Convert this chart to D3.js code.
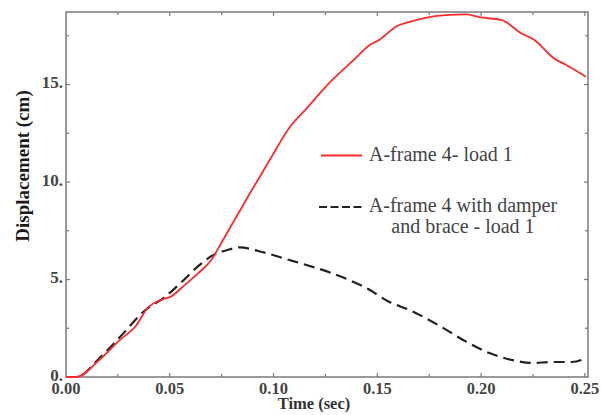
<!DOCTYPE html>
<html><head><meta charset="utf-8">
<script src="https://cdn.jsdelivr.net/npm/d3@7"></script>
<style>body{margin:0;background:#fff}svg{display:block}</style>
</head><body>
<svg id="c" width="601" height="415"></svg>
<script>
const xTicks = [0, 0.05, 0.10, 0.15, 0.20, 0.25];
const xTickLabels = ["0.00", "0.05", "0.10", "0.15", "0.20", "0.25"];
const yTicks = [0, 5, 10, 15];
const yTickLabels = ["0.", "5.", "10.", "15."];

const redT = [0, 0.005, 0.016, 0.026, 0.034, 0.039, 0.047, 0.050, 0.057, 0.064, 0.070, 0.0755, 0.0885, 0.098, 0.1077, 0.1157, 0.127, 0.139, 0.146, 0.151, 0.1596, 0.165, 0.175, 0.183, 0.193, 0.199, 0.210, 0.2197, 0.2255, 0.235, 0.241, 0.2505];
const redV = [0, 0, 0.87, 1.9, 2.67, 3.5, 4.0, 4.1, 4.7, 5.35, 6.0, 7.0, 9.4, 11.1, 12.8, 13.75, 15.1, 16.3, 17.0, 17.3, 18.0, 18.2, 18.46, 18.56, 18.6, 18.46, 18.3, 17.6, 17.3, 16.35, 16.0, 15.4];

const blackT = [0, 0.005, 0.016, 0.026, 0.039, 0.047, 0.055, 0.0644, 0.070, 0.0774, 0.0837, 0.093, 0.1077, 0.1125, 0.128, 0.1365, 0.1447, 0.1558, 0.1654, 0.181, 0.193, 0.204, 0.215, 0.2245, 0.234, 0.2438, 0.2505];
const blackV = [0, 0, 0.95, 2.05, 3.5, 4.05, 4.8, 5.75, 6.2, 6.5, 6.65, 6.45, 6.0, 5.85, 5.33, 4.97, 4.56, 3.85, 3.44, 2.56, 1.8, 1.23, 0.87, 0.72, 0.77, 0.77, 0.97];

const legendLabels = ["A-frame 4- load 1", "A-frame 4 with damper", "and brace - load 1"];

const svg = d3.select("#c");
const L = 66, R = 588, T = 12, B = 377;
const x = d3.scaleLinear().domain([0, 0.2515]).range([L, R]);
const y = d3.scaleLinear().domain([0, 18.72]).range([B, T]);
const axisCol = "#7a7a7a";
const serif = "'Liberation Serif','Times New Roman',serif";

// frame
svg.append("rect").attr("x", L).attr("y", T).attr("width", R - L).attr("height", B - T)
  .attr("fill", "none").attr("stroke", axisCol).attr("stroke-width", 1.5);

const xMinor = [0.025, 0.075, 0.125, 0.175, 0.225];
const yMinor = [2.5, 7.5, 12.5, 17.5];
function tickLines(vals, len) {
  vals.forEach(v => {
    svg.append("line").attr("x1", x(v)).attr("x2", x(v)).attr("y1", B).attr("y2", B - len).attr("stroke", axisCol).attr("stroke-width", 1.2);
    svg.append("line").attr("x1", x(v)).attr("x2", x(v)).attr("y1", T).attr("y2", T + len).attr("stroke", axisCol).attr("stroke-width", 1.2);
  });
}
function yTickLines(vals, len) {
  vals.forEach(v => {
    svg.append("line").attr("x1", L).attr("x2", L + len).attr("y1", y(v)).attr("y2", y(v)).attr("stroke", axisCol).attr("stroke-width", 1.2);
    svg.append("line").attr("x1", R).attr("x2", R - len).attr("y1", y(v)).attr("y2", y(v)).attr("stroke", axisCol).attr("stroke-width", 1.2);
  });
}
tickLines(xTicks.slice(1), 4);
tickLines(xMinor, 3);
yTickLines(yTicks.slice(1), 4);
yTickLines(yMinor, 3);

// tick labels
svg.append("g").selectAll("text").data(xTicks).join("text")
  .attr("x", d => x(d)).attr("y", 394).attr("text-anchor", "middle")
  .style("font-family", serif).attr("font-weight", "bold").attr("font-size", 16.5).attr("fill", "#444")
  .text((d, i) => xTickLabels[i]);
svg.append("g").selectAll("text").data(yTicks).join("text")
  .attr("x", 63).attr("y", d => y(d) + 3.5).attr("text-anchor", "end")
  .style("font-family", serif).attr("font-weight", "bold").attr("font-size", 17).attr("fill", "#444")
  .text((d, i) => yTickLabels[i]);

// titles
svg.append("text").attr("x", 314).attr("y", 409).attr("text-anchor", "middle")
  .style("font-family", serif).attr("font-weight", "bold").attr("font-size", 16.5).attr("fill", "#333")
  .text("Time (sec)");
svg.append("text").attr("transform", "translate(29,166) rotate(-90)").attr("text-anchor", "middle")
  .style("font-family", serif).attr("font-weight", "bold").attr("font-size", 19).attr("fill", "#1a1a1a")
  .text("Displacement (cm)");

// lines
const line = d3.line().x(d => x(d[0])).y(d => y(d[1])).curve(d3.curveMonotoneX);
svg.append("path").datum(blackT.map((t, i) => [t, blackV[i]])).attr("d", line)
  .attr("fill", "none").attr("stroke", "#222").attr("stroke-width", 2.2).attr("stroke-dasharray", "11,6");
svg.append("path").datum(redT.map((t, i) => [t, redV[i]])).attr("d", line)
  .attr("fill", "none").attr("stroke", "#ff2a2a").attr("stroke-width", 1.8);

// legend
svg.append("line").attr("x1", 321).attr("x2", 362).attr("y1", 155.5).attr("y2", 155.5).attr("stroke", "#ff2a2a").attr("stroke-width", 1.8);
svg.append("text").attr("x", 369).attr("y", 161).style("font-family", serif).attr("font-size", 20).attr("fill", "#444").text(legendLabels[0]);
svg.append("line").attr("x1", 319).attr("x2", 362).attr("y1", 207).attr("y2", 207).attr("stroke", "#222").attr("stroke-width", 2.2).attr("stroke-dasharray", "8,3.5");
svg.append("text").attr("x", 463).attr("y", 212).attr("text-anchor", "middle").style("font-family", serif).attr("font-size", 20).attr("fill", "#444").text(legendLabels[1]);
svg.append("text").attr("x", 463).attr("y", 233).attr("text-anchor", "middle").style("font-family", serif).attr("font-size", 20).attr("fill", "#444").text(legendLabels[2]);
</script>
</body></html>
